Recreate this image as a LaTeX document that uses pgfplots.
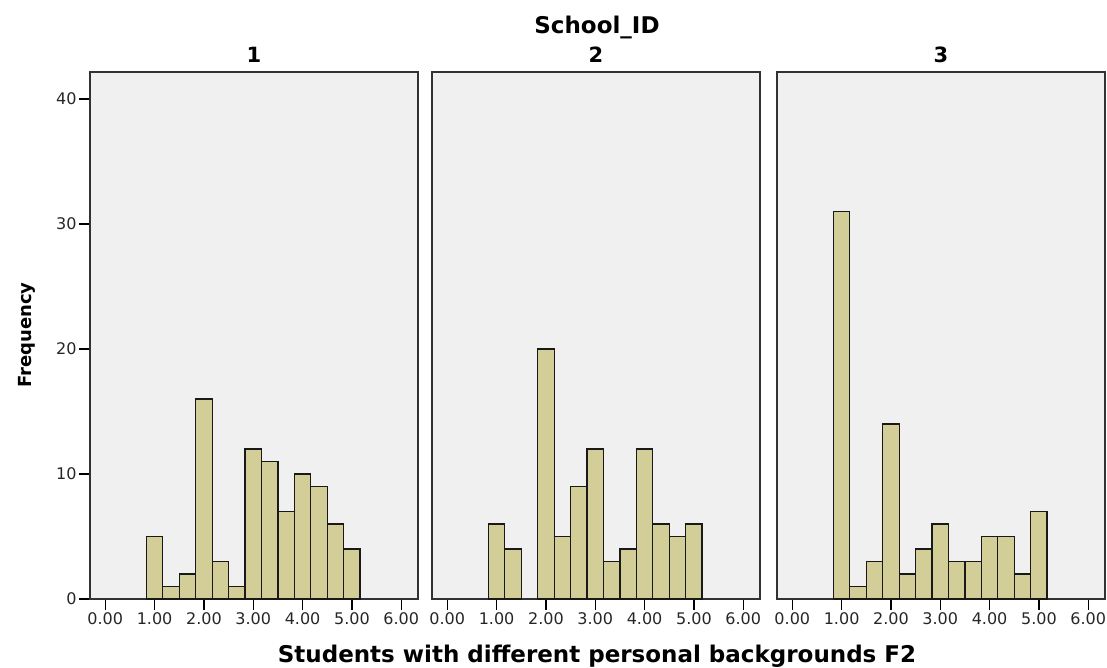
\documentclass[border=0pt]{standalone}
\usepackage{pgfplots}
\pgfplotsset{compat=1.18}
\usepackage{fontspec}
\setmainfont{DejaVu Sans}
\definecolor{barfill}{RGB}{211,206,152}
\definecolor{panelbg}{RGB}{240,240,240}
\definecolor{axisgray}{RGB}{50,50,50}

\pgfplotsset{
  panel/.style={
    scale only axis, width=328bp, height=527bp, anchor=north west,
    xmin=-0.31, xmax=6.34, ymin=0, ymax=42.16,
    axis background/.style={fill=panelbg},
    axis line style={axisgray, line width=1.6bp},
    xtick={0,1,2,3,4,5,6},
    xticklabels={0.00,1.00,2.00,3.00,4.00,5.00,6.00},
    xtick pos=bottom, ytick pos=left,
    tick align=outside,
    major tick length=11bp,
    tick style={black, line width=1.2bp},
    /pgf/number format/assume math mode=true,
    ticklabel style={font=\fontsize{16bp}{18bp}\selectfont, text=black!85},
    xticklabel style={yshift=1bp},
    yticklabel style={xshift=1bp},
    title style={at={(0.5,1)}, anchor=base, yshift=4bp, font=\fontsize{21bp}{24bp}\selectfont\bfseries},
    clip=false,
  },
  bars/.style={ybar, bar width=0.3333, bar shift=0pt, fill=barfill, draw=black!90, line width=1.3bp},
}

\begin{document}
\begin{tikzpicture}
\path[use as bounding box] (0,0) rectangle (1107bp,-668bp);

\begin{axis}[panel, at={(90bp,-72bp)}, title={1}, ytick={0,10,20,30,40}]
\addplot[bars] coordinates {
(1,5) (1.3333,1) (1.6667,2) (2,16) (2.3333,3) (2.6667,1) (3,12)
(3.3333,11) (3.6667,7) (4,10) (4.3333,9) (4.6667,6) (5,4)};
\end{axis}

\begin{axis}[panel, at={(432bp,-72bp)}, title={2}, ytick=\empty]
\addplot[bars] coordinates {
(1,6) (1.3333,4) (2,20) (2.3333,5) (2.6667,9) (3,12)
(3.3333,3) (3.6667,4) (4,12) (4.3333,6) (4.6667,5) (5,6)};
\end{axis}

\begin{axis}[panel, at={(777bp,-72bp)}, title={3}, ytick=\empty]
\addplot[bars] coordinates {
(1,31) (1.3333,1) (1.6667,3) (2,14) (2.3333,2) (2.6667,4) (3,6)
(3.3333,3) (3.6667,3) (4,5) (4.3333,5) (4.6667,2) (5,7)};
\end{axis}

\node[anchor=base, font=\fontsize{23bp}{26bp}\selectfont\bfseries] at (597bp,-33bp) {School\_ID};
\node[anchor=base, rotate=90, font=\fontsize{18bp}{22bp}\selectfont\bfseries] at (31bp,-335bp) {Frequency};
\node[anchor=base, font=\fontsize{23bp}{26bp}\selectfont\bfseries] at (597bp,-662bp) {Students with different personal backgrounds F2};
\end{tikzpicture}
\end{document}
